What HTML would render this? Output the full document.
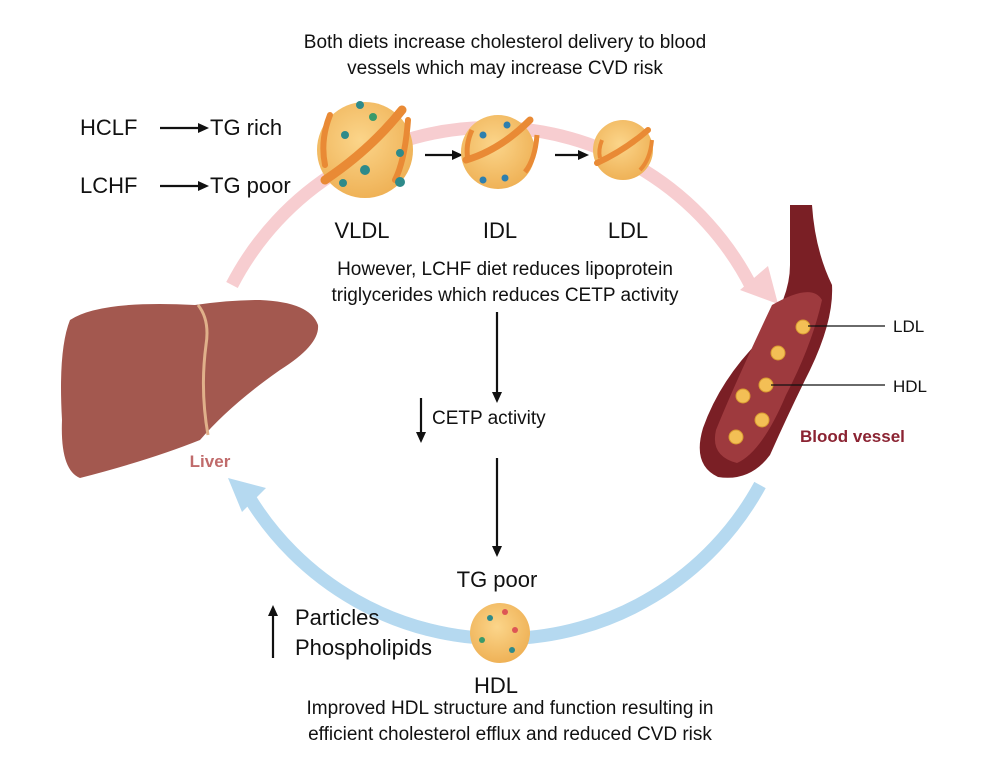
<!DOCTYPE html>
<html><head><style>
body{margin:0;background:#fff}
svg{display:block;font-family:"Liberation Sans",sans-serif}
</style></head><body>
<svg width="989" height="784" viewBox="0 0 989 784">
<defs>
<radialGradient id="pg" cx="0.45" cy="0.4" r="0.6"><stop offset="0" stop-color="#fbd58a"/><stop offset="1" stop-color="#efb257"/></radialGradient>
<marker id="ah" markerWidth="11" markerHeight="10" refX="8" refY="5" orient="auto" markerUnits="userSpaceOnUse"><path d="M0,0 L11,5 L0,10 Z" fill="#111"/></marker>
</defs>
<path d="M232,285 A292,292 0 0 1 752,288" fill="none" stroke="#f7cdd0" stroke-width="13"/>
<path d="M740,290 L778,304 L768,266 Z" fill="#f7cdd0"/>
<path d="M760,485 A295,295 0 0 1 246,492" fill="none" stroke="#b5d9f0" stroke-width="13"/>
<path d="M228,478 L266,488 L242,512 Z" fill="#b5d9f0"/>
<g font-size="19" fill="#111" text-anchor="middle">
<text x="505" y="48">Both diets increase cholesterol delivery to blood</text>
<text x="505" y="74">vessels which may increase CVD risk</text>
<text x="505" y="275">However, LCHF diet reduces lipoprotein</text>
<text x="505" y="301">triglycerides which reduces CETP activity</text>
<text x="510" y="714">Improved HDL structure and function resulting in</text>
<text x="510" y="740">efficient cholesterol efflux and reduced CVD risk</text>
</g>
<g font-size="22" fill="#111">
<text x="80" y="135">HCLF</text><text x="210" y="135">TG rich</text>
<text x="80" y="193">LCHF</text><text x="210" y="193">TG poor</text>
<text x="362" y="238" text-anchor="middle">VLDL</text>
<text x="500" y="238" text-anchor="middle">IDL</text>
<text x="628" y="238" text-anchor="middle">LDL</text>
<text x="497" y="587" text-anchor="middle">TG poor</text>
<text x="496" y="693" text-anchor="middle">HDL</text>
<text x="295" y="625">Particles</text>
<text x="295" y="655">Phospholipids</text>
</g>
<text x="432" y="424" font-size="19" fill="#111">CETP activity</text>
<g stroke="#111" stroke-width="2.2" marker-end="url(#ah)">
<line x1="160" y1="128" x2="206" y2="128"/>
<line x1="160" y1="186" x2="206" y2="186"/>
<line x1="425" y1="155" x2="460" y2="155"/>
<line x1="555" y1="155" x2="586" y2="155"/>
<line x1="497" y1="312" x2="497" y2="400"/>
<line x1="497" y1="458" x2="497" y2="554"/>
<line x1="421" y1="398" x2="421" y2="440"/>
<line x1="273" y1="658" x2="273" y2="608"/>
</g>
<g>
<circle cx="365" cy="150" r="48" fill="url(#pg)"/>
<path d="M325,180 Q370,150 402,110" stroke="#e98a35" stroke-width="9" fill="none" stroke-linecap="round"/>
<path d="M330,115 Q320,140 325,165" stroke="#e98a35" stroke-width="6" fill="none" stroke-linecap="round"/>
<path d="M408,120 Q405,160 395,180" stroke="#e98a35" stroke-width="6" fill="none" stroke-linecap="round"/>
<g fill="#2e8a8a"><circle cx="360" cy="105" r="4"/><circle cx="373" cy="117" r="4" fill="#3a9a6a"/><circle cx="345" cy="135" r="4"/><circle cx="365" cy="170" r="5"/><circle cx="343" cy="183" r="4"/><circle cx="400" cy="182" r="5"/><circle cx="400" cy="153" r="4"/></g>
<circle cx="498" cy="152" r="37" fill="url(#pg)"/>
<path d="M466,160 Q500,150 530,120" stroke="#e98a35" stroke-width="7" fill="none" stroke-linecap="round"/>
<path d="M472,130 Q465,145 468,160" stroke="#e98a35" stroke-width="5" fill="none"/>
<path d="M537,135 Q535,160 525,172" stroke="#e98a35" stroke-width="5" fill="none"/>
<g fill="#2e7fae"><circle cx="483" cy="135" r="3.5"/><circle cx="507" cy="125" r="3.5"/><circle cx="483" cy="180" r="3.5"/><circle cx="505" cy="178" r="3.5"/></g>
<circle cx="623" cy="150" r="30" fill="url(#pg)"/>
<path d="M597,163 Q625,150 648,130" stroke="#e98a35" stroke-width="6" fill="none" stroke-linecap="round"/>
<path d="M602,140 Q598,150 600,158" stroke="#e98a35" stroke-width="4" fill="none"/>
<path d="M652,140 Q650,160 640,170" stroke="#e98a35" stroke-width="4" fill="none"/>
<circle cx="500" cy="633" r="30" fill="url(#pg)"/>
<g><circle cx="490" cy="618" r="3" fill="#2e8a8a"/><circle cx="515" cy="630" r="3" fill="#d55"/><circle cx="482" cy="640" r="3" fill="#3a9a6a"/><circle cx="505" cy="612" r="3" fill="#d55"/><circle cx="512" cy="650" r="3" fill="#2e8a8a"/></g>
</g>
<path d="M70,320 Q100,300 195,305 Q230,300 260,300 Q310,302 318,325 Q320,345 280,370 Q230,405 200,440 Q150,460 80,478 Q60,470 62,420 Q58,350 70,320 Z" fill="#a3584f"/>
<path d="M198,305 Q210,320 206,345 Q200,390 208,435" stroke="#e0b08a" stroke-width="3" fill="none"/>
<text x="210" y="467" font-size="17" font-weight="bold" fill="#c06b6b" text-anchor="middle">Liver</text>
<path d="M790,205 L812,205 Q815,250 832,285 Q834,320 810,370 Q790,410 770,455 Q750,482 718,477 Q692,465 703,428 Q720,380 760,340 Q790,300 790,265 Z" fill="#7a1f25"/>
<path d="M772,305 Q812,282 822,300 Q812,345 786,395 Q762,452 737,463 Q710,456 716,430 Q735,383 772,305 Z" fill="#9e3a3e"/>
<g fill="#f3bf55" stroke="#d89a30" stroke-width="1"><circle cx="803" cy="327" r="7"/><circle cx="778" cy="353" r="7"/><circle cx="766" cy="385" r="7"/><circle cx="743" cy="396" r="7"/><circle cx="762" cy="420" r="7"/><circle cx="736" cy="437" r="7"/></g>
<g stroke="#111" stroke-width="1.2"><line x1="808" y1="326" x2="885" y2="326"/><line x1="771" y1="385" x2="885" y2="385"/></g>
<text x="893" y="332" font-size="17" fill="#111">LDL</text>
<text x="893" y="392" font-size="17" fill="#111">HDL</text>
<text x="800" y="442" font-size="17" font-weight="bold" fill="#8b2332">Blood vessel</text>
</svg>
</body></html>
